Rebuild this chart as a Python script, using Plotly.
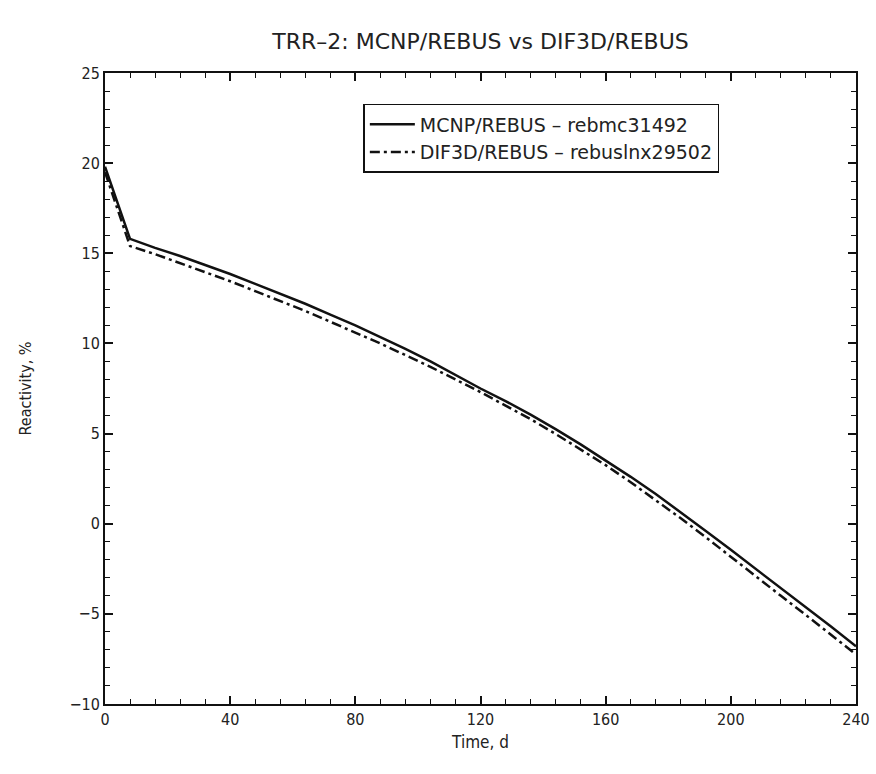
import plotly.graph_objects as go

time_d = [0, 8, 16, 24, 32, 40, 48, 56, 64, 72, 80, 88, 96, 104, 112, 120,
          128, 136, 144, 152, 160, 168, 176, 184, 192, 200, 208, 216, 224, 232, 240]
mcnp_rebus = [19.8, 15.8, 15.3, 14.85, 14.35, 13.85, 13.3, 12.75, 12.2, 11.6, 11.0, 10.35,
              9.7, 9.0, 8.25, 7.5, 6.8, 6.05, 5.25, 4.4, 3.5, 2.6, 1.65, 0.65, -0.4, -1.45,
              -2.5, -3.55, -4.6, -5.7, -6.8]
dif3d_rebus = [19.5, 15.4, 14.95, 14.45, 13.95, 13.45, 12.9, 12.35, 11.8, 11.2, 10.6, 10.0,
               9.35, 8.7, 8.0, 7.3, 6.55, 5.8, 4.98, 4.12, 3.25, 2.3, 1.32, 0.3, -0.75, -1.85,
               -2.92, -4.0, -5.07, -6.15, -7.25]
series_names = ["MCNP/REBUS \u2013 rebmc31492", "DIF3D/REBUS \u2013 rebuslnx29502"]
x_ticks = [0, 40, 80, 120, 160, 200, 240]
y_ticks = [-10, -5, 0, 5, 10, 15, 20, 25]
y_tick_text = ["\u221210", "\u22125", "0", "5", "10", "15", "20", "25"]

WIDE = "DejaVu Sans, Liberation Sans, sans-serif"
TICKFONT = "DejaVu Sans Condensed, Liberation Sans, sans-serif"

fig = go.Figure()
fig.add_trace(go.Scatter(x=time_d, y=mcnp_rebus, mode="lines", name=series_names[0],
                         line=dict(color="#111111", width=2.5)))
fig.add_trace(go.Scatter(x=time_d, y=dif3d_rebus, mode="lines", name=series_names[1],
                         line=dict(color="#111111", width=2.5, dash="10px,4px,3px,4px")))

axis_common = dict(showline=True, linecolor="#111111", linewidth=2, mirror="ticks",
                   ticks="inside", ticklen=8, tickwidth=1.5, tickcolor="#111111",
                   showgrid=False, zeroline=False, ticklabeloverflow="allow",
                   tickfont=dict(family=TICKFONT, size=16, color="#222222"))

fig.update_xaxes(range=[0, 240], tickvals=x_ticks, automargin=False,
                 minor=dict(dtick=8, ticks="inside", ticklen=5, tickcolor="#111111", tickwidth=1),
                 title=dict(text="Time, d", font=dict(family=TICKFONT, size=17, color="#222222"), standoff=8),
                 **axis_common)
fig.update_yaxes(range=[-10, 25], tickvals=y_ticks, ticktext=y_tick_text, automargin=False,
                 minor=dict(dtick=1, ticks="inside", ticklen=5, tickcolor="#111111", tickwidth=1),
                 title=dict(text="Reactivity, %", font=dict(family=TICKFONT, size=16, color="#222222"), standoff=34),
                 **axis_common)

fig.update_layout(
    width=876, height=774,
    margin=dict(l=105, r=20, t=73, b=70),
    paper_bgcolor="white", plot_bgcolor="white",
    title=dict(text="TRR\u20132: MCNP/REBUS vs DIF3D/REBUS", x=0.5, xanchor="center",
               xref="paper", y=0.946, yanchor="middle",
               font=dict(family=WIDE, size=22, color="#222222")),
    legend=dict(x=0.344, y=0.951, xanchor="left", yanchor="top",
                bgcolor="white", bordercolor="#111111", borderwidth=1.5,
                font=dict(family=WIDE, size=19, color="#222222"),
                tracegroupgap=0, itemwidth=45),
    showlegend=True,
)

fig.write_html("out.html", config={"displayModeBar": False},
               post_script="document.body.style.margin='0';document.body.style.overflow='hidden';")
